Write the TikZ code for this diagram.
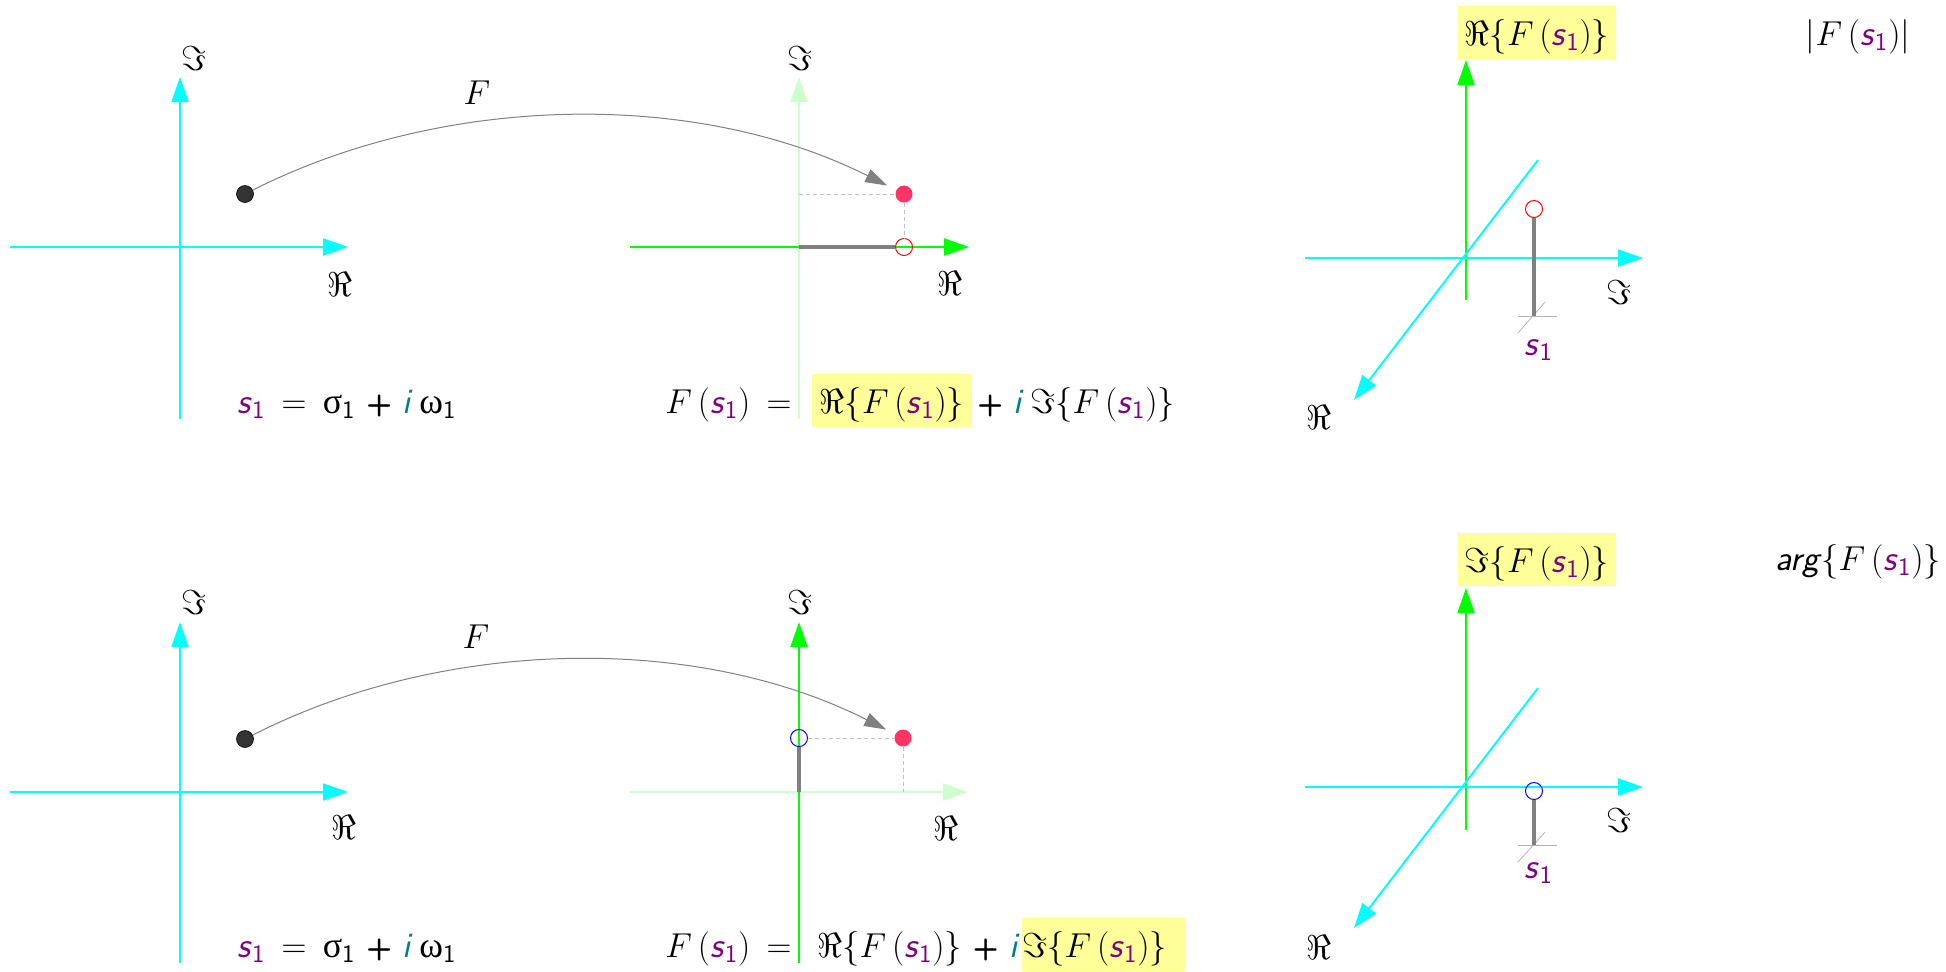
\documentclass[tikz,border=0pt]{standalone}
\usepackage{fontspec}
\usetikzlibrary{arrows.meta}

\newfontfamily\grk{Liberation Serif}

\definecolor{axcyan}{HTML}{00FFFF}
\definecolor{axgreen}{HTML}{00FF00}
\definecolor{axpale}{HTML}{CCFFCC}
\definecolor{ptred}{HTML}{FF3366}
\definecolor{ptdark}{HTML}{333333}
\definecolor{hly}{HTML}{FFFF99}
\definecolor{svio}{HTML}{800080}
\definecolor{iteal}{HTML}{008080}

\newcommand{\sone}{\textcolor{svio}{\textsf{\itshape s}\textsubscript{\textsf{1}}}}
\newcommand{\Fof}{$F\,($\sone$)$}
\newcommand{\ReF}{$\Re\{$\Fof$\}$}
\newcommand{\ImF}{$\Im\{$\Fof$\}$}
\newcommand{\iu}{\textcolor{iteal}{\textsf{\itshape i}}\,}
\newcommand{\pl}{{\fontsize{15}{18}\selectfont\sffamily\bfseries +}}

\begin{document}
\begin{tikzpicture}[x=0.5pt, y=-0.5pt,
  ax/.style={line width=1pt, -{Triangle[length=12.5pt, width=8.5pt]}},
  lbl/.style={font=\fontsize{19}{23}\selectfont, inner sep=0pt},
  eq/.style={font=\fontsize{18}{22}\selectfont, inner sep=0pt},
  hl/.style={eq, fill=hly, text height=19.5pt, text depth=7pt},
  dot/.style={circle, inner sep=0pt, minimum size=8.5pt},
  ring/.style={circle, draw, line width=0.5pt, inner sep=0pt, minimum size=8.5pt},
  guide/.style={draw=black!25, dash pattern=on 2pt off 1.5pt, line width=0.5pt},
  part/.style={draw=gray, line width=1.8pt},
  map/.style={draw=gray, line width=0.5pt, shorten >=5pt, -{Triangle[length=11pt, width=7pt]}},
  tick/.style={draw=black!30, line width=0.4pt}]

\useasboundingbox (0,0) rectangle (1946,971);

% s-plane, top
\draw[ax, axcyan] (10,247) -- (348,247);
\draw[ax, axcyan] (180,419) -- (180,77);
\node[lbl] (ima) at (194,58) {$\Im$};
\node[lbl] (rea) at (340,284) {$\Re$};
\node[dot, fill=ptdark, draw=black, line width=0.3pt] (z1) at (245,194) {};
\node[eq, anchor=base west] (eqs1) at (237,413) {\sone\hspace{0.45em}$=$\hspace{0.45em}{\grk σ}\textsubscript{\textsf{1}} \pl\ \iu{\grk ω}\textsubscript{\textsf{1}}};

% F-plane, top
\draw[ax, axpale] (799,419) -- (799,77);
\draw[ax, axgreen] (630,247) -- (969,247);
\node[lbl] (imb) at (800,58) {$\Im$};
\node[lbl] (reb) at (950,283) {$\Re$};
\coordinate (o1) at (799,247);
\coordinate (y1) at (799,194);
\node[dot, fill=ptred] (w1) at (904,194) {};
\node[ring, draw=red] (wr1) at (904,247) {};
\draw[guide] (y1) -- (w1);
\draw[guide] (w1) -- (wr1);
\draw[part] (o1) -- (wr1);
\draw[map] (z1) .. controls (443,94) and (695,89) .. (w1);
\node[eq] (fa) at (477,93) {$F$};

\node[eq, anchor=base west] (eqF1a) at (665,413) {\Fof\hspace{0.45em}$=$};
\node[hl, anchor=base, minimum width=80pt] (eqF1b) at (892,413) {\ReF};
\node[eq, anchor=base west] (eqF1c) at (977,413) {\pl\ \iu\ImF};

% 3-d view, top
\draw[ax, axgreen] (1466,300) -- (1466,60);
\draw[ax, axcyan] (1305,258) -- (1643,258);
\draw[ax, axcyan] (1538,160) -- (1354,400);
\node[lbl] (imc) at (1619,292) {$\Im$};
\node[lbl] (rec) at (1319,417) {$\Re$};
\draw[tick] (1518,316) -- (1557,316);
\draw[tick] (1545,302) -- (1518,333);
\coordinate (b1) at (1534,316);
\node[ring, draw=red] (m1) at (1534,209) {};
\draw[part] (b1) -- (m1);
\node[eq, anchor=base] (sa) at (1539,355) {\sone};
\node[hl, anchor=base, minimum width=79pt] (reF) at (1537,45) {\ReF};
\node[eq, anchor=base] (absF) at (1858,45) {$|$\Fof$|$};

% s-plane, bottom
\draw[ax, axcyan] (10,792) -- (348,792);
\draw[ax, axcyan] (180,963) -- (180,622);
\node[lbl] (imd) at (194,602) {$\Im$};
\node[lbl] (red) at (344,827) {$\Re$};
\node[dot, fill=ptdark, draw=black, line width=0.3pt] (z2) at (245,739) {};
\node[eq, anchor=base west] (eqs2) at (237,957) {\sone\hspace{0.45em}$=$\hspace{0.45em}{\grk σ}\textsubscript{\textsf{1}} \pl\ \iu{\grk ω}\textsubscript{\textsf{1}}};

% F-plane, bottom
\draw[ax, axpale] (630,792) -- (968,792);
\draw[ax, axgreen] (799,963) -- (799,622);
\node[lbl] (ime) at (800,602) {$\Im$};
\node[lbl] (ree) at (946,828) {$\Re$};
\coordinate (o2) at (799,792);
\coordinate (x2) at (903,792);
\node[dot, fill=ptred] (w2) at (903,738) {};
\node[ring, draw=blue] (wi2) at (799,738) {};
\draw[guide] (wi2) -- (w2);
\draw[guide] (w2) -- (x2);
\draw[part] (o2) -- (wi2);
\draw[map] (z2) .. controls (443,638) and (695,633) .. (w2);
\node[eq] (fb) at (476,637) {$F$};

\node[eq, anchor=base west] (eqF2a) at (665,957) {\Fof\hspace{0.45em}$=$};
\node[eq, anchor=base west] (eqF2b) at (817,957) {\ReF\ \pl\ \iu};
\node[hl, anchor=base west, inner xsep=0pt, text width=81.5pt, align=left] (eqF2c) at (1022,957) {\ImF};

% 3-d view, bottom
\draw[ax, axgreen] (1466,830) -- (1466,588);
\draw[ax, axcyan] (1305,787) -- (1643,787);
\draw[ax, axcyan] (1538,688) -- (1354,928);
\node[lbl] (imf) at (1619,820) {$\Im$};
\node[lbl] (ref) at (1319,947) {$\Re$};
\draw[tick] (1518,845) -- (1557,845);
\draw[tick] (1545,832) -- (1518,862);
\coordinate (b2) at (1534,845);
\node[ring, draw=blue] (m2) at (1534,791) {};
\draw[part] (b2) -- (m2);
\node[eq, anchor=base] (sb) at (1539,878) {\sone};
\node[hl, anchor=base, minimum width=79pt] (imF) at (1537,572) {\ImF};
\node[eq, anchor=base] (argF) at (1858,570) {\textsf{\itshape arg}$\{$\Fof$\}$};

\end{tikzpicture}
\end{document}
